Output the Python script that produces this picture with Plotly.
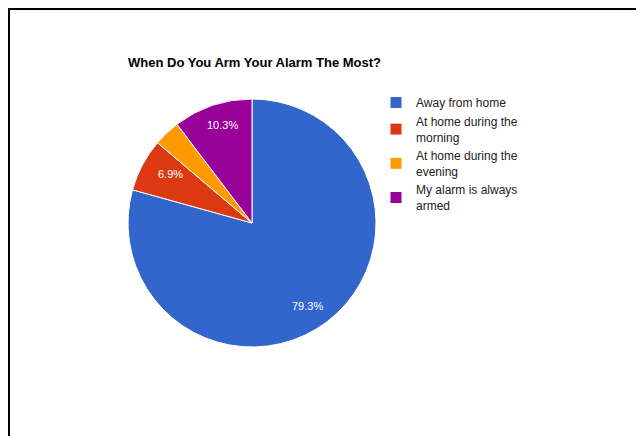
import math
import plotly.graph_objects as go

title = "When Do You Arm Your Alarm The Most?"
labels = ["Away from home", "At home during the<br>morning", "At home during the<br>evening", "My alarm is always<br>armed"]
values = [23, 2, 1, 3]
colors = ["#3366cc", "#dc3912", "#ff9900", "#990099"]

W, H = 644, 436
OFF = 8  # page body margin offset
cx, cy, r = 252 - OFF, 223 - OFF, 124
lrx, lry = 117, 131.5  # label placement radii

fig = go.Figure()
fig.add_trace(go.Pie(
    labels=labels, values=values, sort=False, direction="clockwise", rotation=0,
    marker=dict(colors=colors, line=dict(color="white", width=1)),
    textinfo="none", hoverinfo="label+percent",
    domain=dict(x=[(cx - r) / W, (cx + r) / W], y=[(H - cy - r) / H, (H - cy + r) / H]),
))

total = sum(values)
cum = 0
annotations = []
for v in values:
    frac = v / total
    mid = (cum + frac / 2) * 2 * math.pi
    cum += frac
    if frac < 0.05:
        continue
    k = 0.79
    px = cx + math.sin(mid) * k * lrx
    py = cy - math.cos(mid) * k * lry
    annotations.append(dict(x=px / W, y=1 - py / H, xref="paper", yref="paper",
                            xanchor="center", yanchor="middle",
                            text=f"{frac*100:.1f}%", showarrow=False,
                            font=dict(family="Arial, Liberation Sans", size=11, color="white")))

fig.update_layout(
    width=W, height=H, margin=dict(l=0, r=0, t=0, b=0),
    paper_bgcolor="white", plot_bgcolor="white",
    title=dict(text="<b>" + title + "</b>", x=(128 - OFF) / W, xanchor="left", y=1 - (62 - OFF) / H, yanchor="middle",
               font=dict(family="Arial, Liberation Sans", size=13, color="black")),
    legend=dict(x=(376 - OFF) / W, y=1 - (88 - OFF) / H, xanchor="left", yanchor="top",
                font=dict(family="Arial, Liberation Sans", size=12, color="#222222"),
                bgcolor="rgba(0,0,0,0)", itemwidth=30, tracegroupgap=0),
    annotations=annotations,
    shapes=[
        dict(type="line", xref="paper", yref="paper", x0=0, x1=1, y0=1 - 1 / H, y1=1 - 1 / H,
             line=dict(color="black", width=2)),
        dict(type="line", xref="paper", yref="paper", x0=1 / W, x1=1 / W, y0=1, y1=0,
             line=dict(color="black", width=2)),
    ],
)

fig.write_html("out.html")
